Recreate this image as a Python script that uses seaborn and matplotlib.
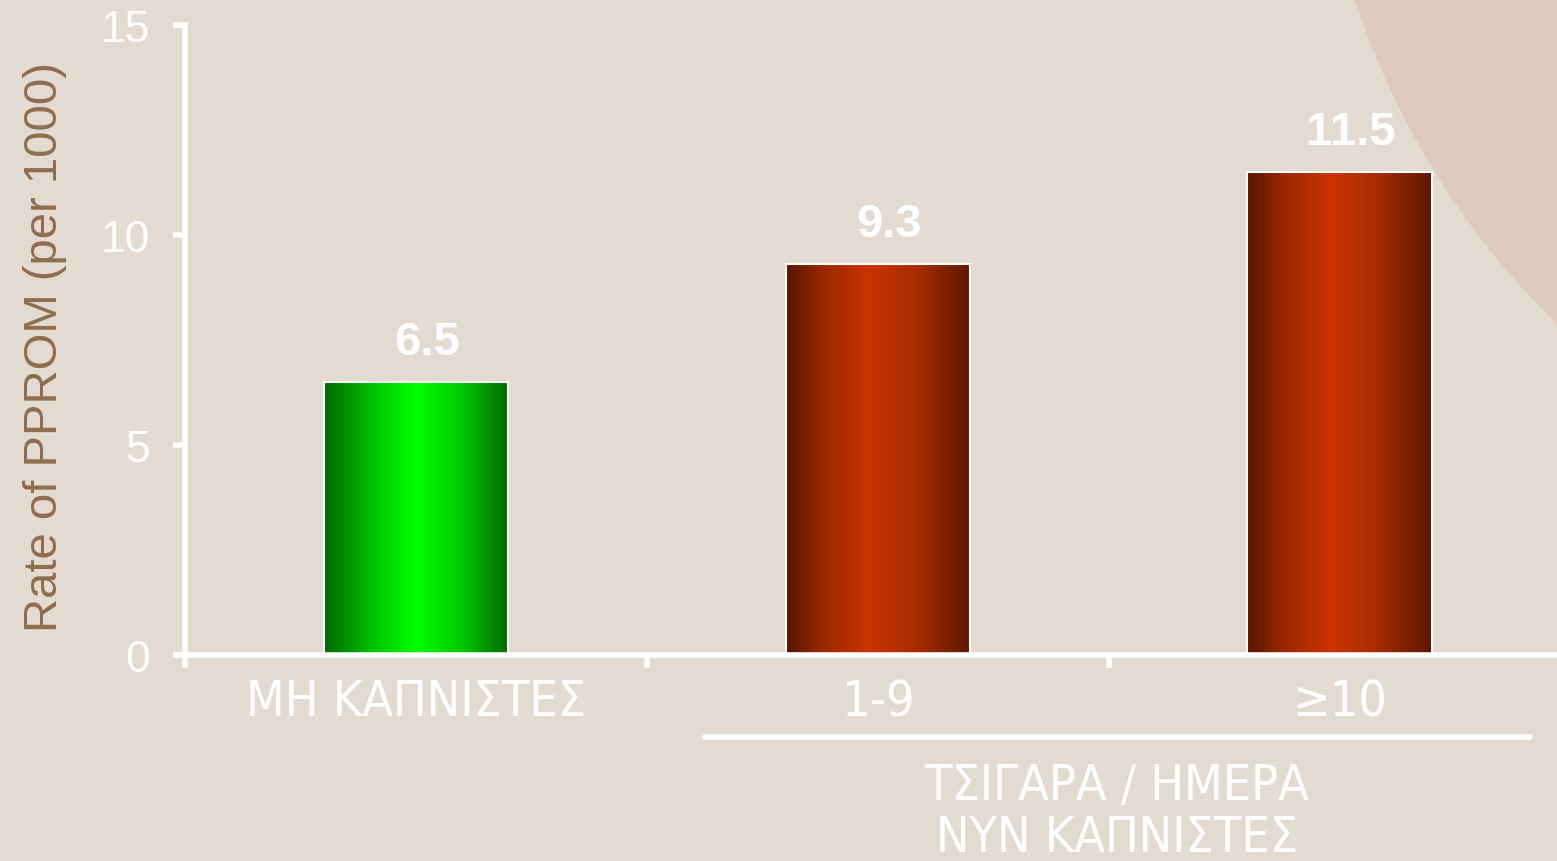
import numpy as np
import matplotlib
matplotlib.use('Agg')
import matplotlib.pyplot as plt
import seaborn as sns
from matplotlib.colors import LinearSegmentedColormap
from matplotlib.patches import Ellipse

# data
categories = ['ΜΗ ΚΑΠΝΙΣΤΕΣ', '1-9', '≥10']
values = [6.5, 9.3, 11.5]
value_labels = ['6.5', '9.3', '11.5']
yticks = [0, 5, 10, 15]
group_label = 'ΤΣΙΓΑΡΑ / ΗΜΕΡΑ\nΝΥΝ ΚΑΠΝΙΣΤΕΣ'
ylabel = 'Rate of PPROM (per 1000)'

bg = '#E3DBD1'
green_cmap = LinearSegmentedColormap.from_list(
    'g', [(0, '#006800'), (0.25, '#00C000'), (0.5, '#00FF00'), (0.75, '#00C800'), (1, '#006800')])
red_cmap = LinearSegmentedColormap.from_list(
    'r', [(0, '#561600'), (0.2, '#9A2800'), (0.45, '#CC3300'), (0.7, '#A82C00'), (1, '#5E1800')])
cmaps = [green_cmap, red_cmap, red_cmap]

sns.set_style('ticks')
plt.rcParams['font.family'] = ['Liberation Sans', 'DejaVu Sans']

W, H = 1557, 862
fig = plt.figure(figsize=(W / 100, H / 100), dpi=100, facecolor=bg)
# decorative circle in the top right corner
fig.add_artist(Ellipse((2111 / W, 1 + 245 / H), 2 * 795 / W, 2 * 795 / H,
                       transform=fig.transFigure, facecolor='#DECABE',
                       edgecolor='none', zorder=-1))

ax = fig.add_axes([185 / W, 1 - 656 / H, 1 - 185 / W, 630 / H])
ax.set_facecolor('none')

sns.barplot(x=categories, y=values, hue=categories, palette=['#00C000', '#B02D00', '#B02D00'],
            width=0.4, saturation=1, legend=False, edgecolor='white', linewidth=1.5, ax=ax)

# horizontal gradient fill for each bar, value label slightly right of centre
grad = np.linspace(0, 1, 256)[None, :]
for i, cont in enumerate(ax.containers):
    for p in cont.patches:
        x0, w, h = p.get_x(), p.get_width(), p.get_height()
        ax.imshow(grad, extent=[x0, x0 + w, 0, h], cmap=cmaps[i], aspect='auto', zorder=2)
        p.set_facecolor('none')
        p.set_zorder(3)
        ax.annotate(value_labels[i], (x0 + w / 2, h), xytext=(8, 13), textcoords='offset points',
                    ha='center', va='bottom', color='white', fontsize=34, fontweight='bold')

ax.set_xlim(-0.5, 2.47)
ax.set_ylim(0, 15)
ax.set_yticks(yticks)
ax.set_xticks([-0.5, 0.5, 1.5], labels=['', '', ''])
ax.set_xticks([0, 1, 2], labels=categories, minor=True)

for s in ['top', 'right']:
    ax.spines[s].set_visible(False)
for s in ['left', 'bottom']:
    ax.spines[s].set_color('white')
    ax.spines[s].set_linewidth(4)

ax.tick_params(which='major', length=9, width=4, color='white', direction='out')
ax.tick_params(axis='y', labelsize=32, labelcolor='white', pad=16)
ax.tick_params(axis='x', which='minor', length=0, pad=16, labelsize=36, labelcolor='white')
for t in ax.get_xticklabels(minor=True):
    t.set_family('DejaVu Sans')
    t.set_stretch('condensed')

ax.set_ylabel(ylabel, fontsize=34, color='#8F6E4E')
ax.yaxis.set_label_coords(-0.086, 0.49)

# group bracket line and label for current smokers
ax.plot([0.6255, 2.411], [-1.95, -1.95], color='white', lw=4, clip_on=False)
ax.text(1.517, -3.72, group_label, ha='center', va='center', fontsize=36, color='white',
        family='DejaVu Sans', stretch='condensed', linespacing=1.1)

fig.savefig('out.png', dpi=100, facecolor=bg)
